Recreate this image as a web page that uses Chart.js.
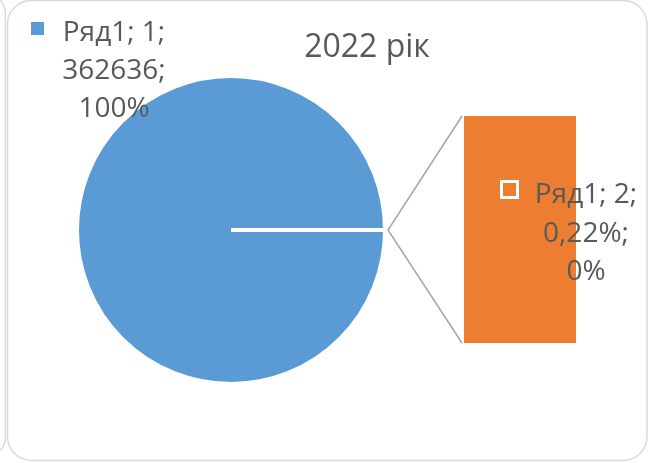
<!DOCTYPE html>
<html>
<head>
<meta charset="utf-8">
<script src="https://cdn.jsdelivr.net/npm/chart.js@4.4.0/dist/chart.umd.min.js"></script>
<style>
  body { margin: 0; background: #fff; }
  #wrap { position: relative; width: 657px; height: 463px; overflow: hidden; }
  #barCanvas { position: absolute; left: 464px; top: 116px; }
  #pieCanvas { position: absolute; left: 0; top: 0; }
</style>
</head>
<body>
<div id="wrap">
  <canvas id="barCanvas" width="112" height="227"></canvas>
  <canvas id="pieCanvas" width="657" height="463"></canvas>
</div>
<script>
const chartTitle = '2022 рік';
const seriesName = 'Ряд1';
const categories = ['1', '2'];
const values = [362636, 0.0022];
const valueFormats = ['0', '0.00%'];
const sliceColors = ['#5B9BD5', '#ED7D31'];

const total = values.reduce((a, b) => a + b, 0);

function formatValue(v, fmt) {
    if (fmt === '0.00%') return (v * 100).toFixed(2).replace('.', ',') + '%';
    return String(Math.round(v));
}

function labelLines(i) {
    return [
        seriesName + '; ' + categories[i] + ';',
        formatValue(values[i], valueFormats[i]) + ';',
        Math.round(values[i] / total * 100) + '%'
    ];
}

// secondary bar ("pie of bar"): the small point goes to the bar
const barChart = new Chart(document.getElementById('barCanvas'), {
    type: 'bar',
    data: {
        labels: [categories[1]],
        datasets: [{
            data: [values[1]],
            backgroundColor: sliceColors[1],
            borderWidth: 0,
            barPercentage: 1,
            categoryPercentage: 1
        }]
    },
    options: {
        responsive: false,
        animation: false,
        events: [],
        layout: { padding: 0 },
        plugins: { legend: { display: false }, tooltip: { enabled: false } },
        scales: {
            x: { display: false },
            y: { display: false, min: 0, max: values[1] }
        }
    }
});

const decor = {
    id: 'decor',
    afterDraw(chart) {
        const ctx = chart.ctx;
        ctx.save();

        // chart frames
        ctx.strokeStyle = '#D9D9D9';
        ctx.lineWidth = 1.5;
        ctx.beginPath();
        ctx.roundRect(7.5, 0.5, 639.5, 460, 24);
        ctx.stroke();
        ctx.beginPath();
        ctx.roundRect(-500, -6, 505.5, 463, 20);
        ctx.stroke();

        // connector lines pie -> bar
        const arc = chart.getDatasetMeta(0).data[0];
        const bar = barChart.getDatasetMeta(0).data[0];
        const bx = 464 + bar.x - bar.width / 2 - 2;
        const topY = 116 + bar.y;
        const botY = 116 + bar.base;
        const ax = arc.x + arc.outerRadius + 3;
        ctx.strokeStyle = '#A6A6A6';
        ctx.lineWidth = 1.5;
        ctx.beginPath();
        ctx.moveTo(bx, topY);
        ctx.lineTo(ax, arc.y);
        ctx.lineTo(bx, botY);
        ctx.stroke();

        // title
        ctx.fillStyle = '#595959';
        ctx.textAlign = 'center';
        ctx.textBaseline = 'alphabetic';
        ctx.font = '32px "Open Sans", sans-serif';
        ctx.fillText(chartTitle, 367, 57);

        // data labels
        ctx.font = '28px "Open Sans", sans-serif';
        const spots = [
            { cx: 114, base: [41, 79, 117], mx: 31, my: 22 },
            { cx: 586, base: [203, 242, 280], mx: 503, my: 183 }
        ];
        spots.forEach((s, i) => {
            ctx.fillStyle = sliceColors[i];
            ctx.fillRect(s.mx, s.my, 13, 13);
            if (i === 1) {
                ctx.strokeStyle = '#FFFFFF';
                ctx.lineWidth = 3;
                ctx.strokeRect(s.mx - 1.5, s.my - 1.5, 16, 16);
            }
            ctx.fillStyle = '#595959';
            labelLines(i).forEach((t, k) => ctx.fillText(t, s.cx, s.base[k]));
        });
        ctx.restore();
    }
};

const pieChart = new Chart(document.getElementById('pieCanvas'), {
    type: 'pie',
    data: {
        labels: categories,
        datasets: [{
            data: [values[0], values[1]],
            backgroundColor: sliceColors,
            borderColor: '#FFFFFF',
            borderWidth: 4
        }]
    },
    options: {
        responsive: false,
        animation: false,
        events: [],
        rotation: 90,
        radius: 154,
        layout: { padding: { left: 70, right: 265, top: 70, bottom: 73 } },
        plugins: { legend: { display: false }, tooltip: { enabled: false } }
    },
    plugins: [decor]
});
</script>
</body>
</html>
